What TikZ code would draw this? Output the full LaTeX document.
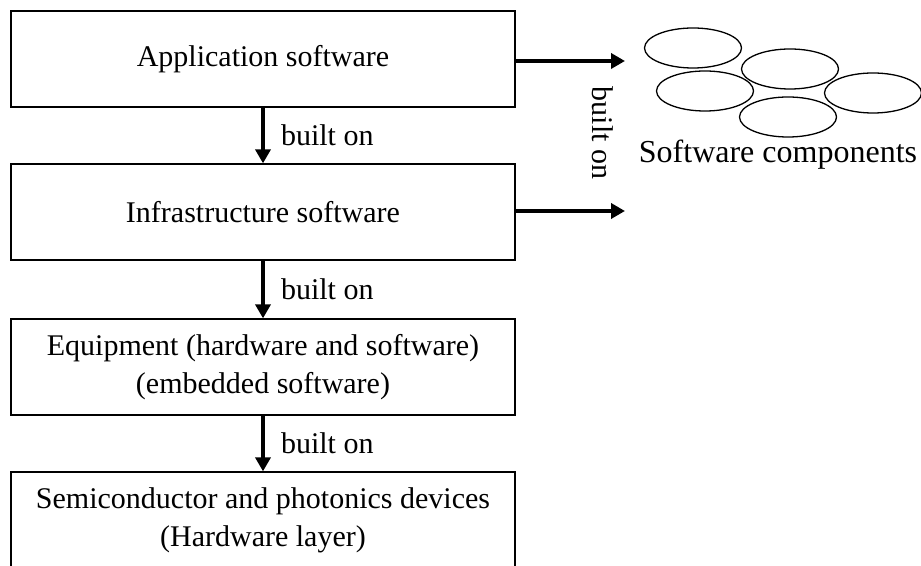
\documentclass[tikz,border=0pt]{standalone}
\usepackage{fontspec}
\setmainfont{Liberation Serif}
\usetikzlibrary{arrows.meta,shapes.geometric}
\tikzset{
  layer/.style={draw, line width=0.65pt, minimum width=252pt, minimum height=48pt,
    inner sep=0pt, align=center, font=\fontsize{15}{19}\selectfont},
  comp/.style={draw, ellipse, line width=0.65pt, minimum width=48.5pt, minimum height=20pt, inner sep=0pt},
  builton/.style={line width=2pt, -{Triangle[length=7pt,width=7.5pt]}},
  txt/.style={font=\fontsize{15}{19}\selectfont, inner sep=0pt}
}
\begin{document}
\begin{tikzpicture}[x=0.5pt,y=-0.5pt]
  \useasboundingbox (0,0) rectangle (921,566);
  \draw
    (263,59) node[layer] (app) {Application software}
    (263,212) node[layer] (infra) {Infrastructure software}
    (263,367) node[layer] (equip) {Equipment (hardware and software)\\(embedded software)}
    (263,520) node[layer] (semi) {Semiconductor and photonics devices\\(Hardware layer)};
  \draw
    (693,48) node[comp] (c1) {}
    (790,69) node[comp] (c2) {}
    (705,91) node[comp] (c3) {}
    (873,93) node[comp] (c4) {}
    (788,117) node[comp] (c5) {};
  \node[txt, font=\fontsize{16}{19}\selectfont, anchor=base] (comps) at (778,163) {Software components};
  \coordinate (r1) at (625,61);
  \coordinate (r2) at (625,211);
  \node[txt, rotate=-90] (side) at (603,133) {built on};
  \begin{scope}[builton]
    \draw (app) to node[txt, right=8pt] (b1) {built on} (infra);
    \draw (infra) to node[txt, right=8pt] (b2) {built on} (equip);
    \draw (equip) to node[txt, right=8pt] (b3) {built on} (semi);
    \draw (app.east |- r1) to (r1);
    \draw (infra.east |- r2) to (r2);
  \end{scope}
\end{tikzpicture}
\end{document}
